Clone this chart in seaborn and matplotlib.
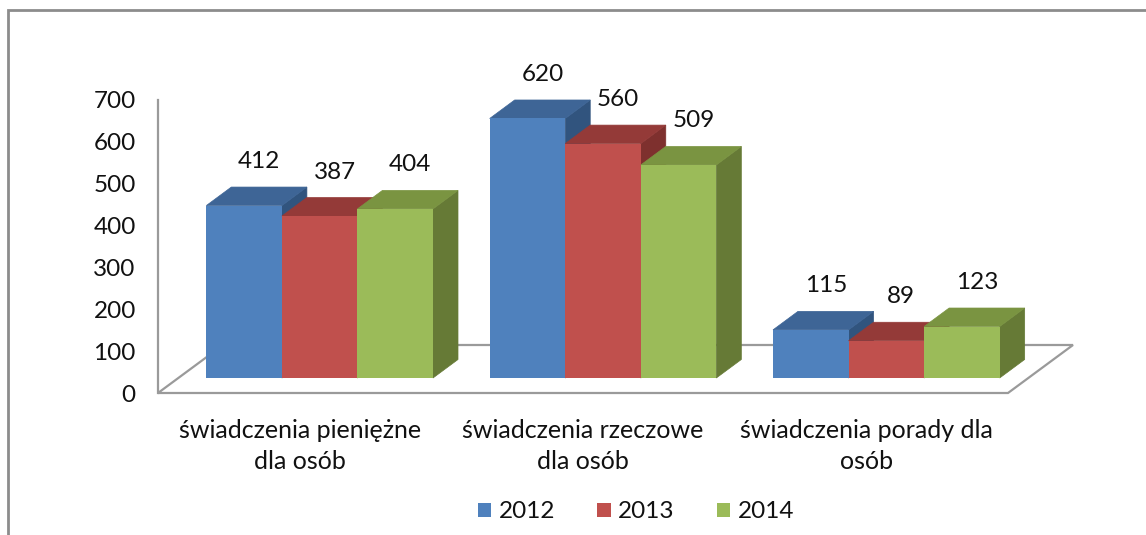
import matplotlib
matplotlib.use("Agg")
import matplotlib.pyplot as plt
import matplotlib.transforms as mtransforms
from matplotlib.patches import Polygon, Rectangle
import seaborn as sns
import pandas as pd

# chart data
categories = ["świadczenia pieniężne\ndla osób",
              "świadczenia rzeczowe\ndla osób",
              "świadczenia porady dla\nosób"]
years = ["2012", "2013", "2014"]
values_2012 = [412, 620, 115]
values_2013 = [387, 560, 89]
values_2014 = [404, 509, 123]
y_ticks = [0, 100, 200, 300, 400, 500, 600, 700]

front_colors = ["#4F81BD", "#C0504D", "#9BBB59"]
top_colors = ["#3E6596", "#943A38", "#7A9441"]
side_colors = ["#31547E", "#7E302E", "#667A36"]

rows = []
for year, vals in zip(years, [values_2012, values_2013, values_2014]):
    for cat, v in zip(categories, vals):
        rows.append({"category": cat, "year": year, "value": v})
df = pd.DataFrame(rows)

sns.set_style("white")
plt.rcParams["font.family"] = ["Lato", "DejaVu Sans"]
FS = 17.5
FS_CAT = 18
TXT = "#111111"
GRID = "#9a9a9a"

W, H = 1146, 535
fig = plt.figure(figsize=(W / 100, H / 100), dpi=100)
ax = fig.add_axes([158 / W, (H - 393) / H, 850 / W, 293 / H])

sns.barplot(data=df, x="category", y="value", hue="year", palette=front_colors,
            width=0.8, saturation=1, ax=ax, order=categories, hue_order=years,
            linewidth=0)
ax.set_xlim(-0.5, 2.5)
ax.set_ylim(0, 700)
ax.set_yticks(y_ticks)
ax.set_xlabel("")
ax.set_ylabel("")
ax.tick_params(axis="y", length=0, pad=16, labelsize=FS, labelcolor=TXT)
ax.tick_params(axis="x", length=0, pad=19, labelsize=FS_CAT, labelcolor=TXT)
for lab in ax.get_xticklabels():
    lab.set_linespacing(1.4)
for side in ["top", "right", "bottom"]:
    ax.spines[side].set_visible(False)
ax.spines["left"].set_color(GRID)
ax.spines["left"].set_linewidth(1.6)

handles, labels = ax.get_legend_handles_labels()
ax.get_legend().remove()

bars = [p for p in ax.patches if isinstance(p, Rectangle) and p.get_height() > 0]
bars.sort(key=lambda p: p.get_x())

# pseudo-3D geometry (pixels)
bar_dx, bar_dy = 20, 15       # front face pushed back into the floor
depth_dx, depth_dy = 25, 18.5  # bar depth
floor_dx, floor_dy = 65, 48    # full floor depth

bar_tr = ax.transData + mtransforms.ScaledTranslation(
    bar_dx / 100, bar_dy / 100, fig.dpi_scale_trans)
ident = mtransforms.IdentityTransform()

# floor
fl = ax.transData.transform([(-0.5, 0), (2.5, 0)])
floor = Polygon([fl[0], fl[1], fl[1] + (floor_dx, floor_dy), fl[0] + (floor_dx, floor_dy)],
                closed=True, facecolor="white", edgecolor=GRID, lw=1.6,
                transform=ident, zorder=0.5, clip_on=False)
ax.add_artist(floor)

for i, p in enumerate(bars):
    fc = matplotlib.colors.to_hex(p.get_facecolor())
    k = [j for j, c in enumerate(front_colors) if c.lower() == fc.lower()][0]
    p.set_transform(bar_tr)
    p.set_zorder(3 + 3 * i + 2)
    p.set_clip_on(False)
    x0, x1 = p.get_x(), p.get_x() + p.get_width()
    h = p.get_height()
    (a, b) = bar_tr.transform([(x0, h), (x1, h)])
    c = bar_tr.transform([(x1, 0)])[0]
    d = (depth_dx, depth_dy)
    top = Polygon([a, b, b + d, a + d], closed=True, facecolor=top_colors[k],
                  edgecolor=top_colors[k], lw=0.5, transform=ident,
                  zorder=3 + 3 * i + 1, clip_on=False)
    sidep = Polygon([b, c, c + d, b + d], closed=True, facecolor=side_colors[k],
                    edgecolor=side_colors[k], lw=0.5, transform=ident,
                    zorder=3 + 3 * i, clip_on=False)
    ax.add_artist(top)
    ax.add_artist(sidep)
    ax.annotate(f"{int(h)}", xy=((x0 + x1) / 2, h), xycoords=bar_tr,
                xytext=(15, 44), textcoords="offset pixels",
                ha="center", va="center", fontsize=FS, color=TXT, zorder=100)

fig.legend(handles, labels, loc="center", bbox_to_anchor=(636 / W, 1 - 512 / H),
           ncol=3, frameon=False, fontsize=FS, handlelength=0.55, handleheight=0.55,
           handletextpad=0.3, columnspacing=1.75, labelcolor=TXT)

# outer chart frame
fig.patches.append(Rectangle((8 / W, -0.1), 1.2, (H - 10) / H + 0.1,
                             transform=fig.transFigure, fill=False,
                             edgecolor="#8c8c8c", lw=2))

fig.savefig("out.png", dpi=100)
